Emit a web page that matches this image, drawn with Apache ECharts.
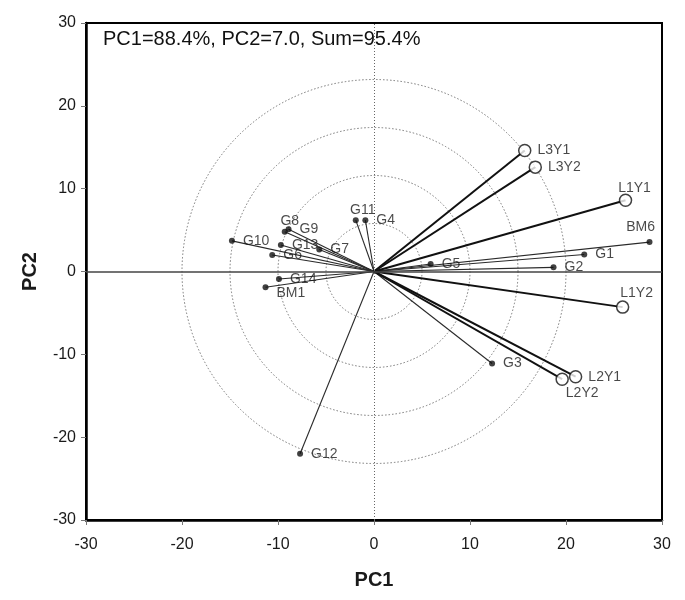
<!DOCTYPE html>
<html>
<head>
<meta charset="utf-8">
<script src="https://cdn.jsdelivr.net/npm/echarts@6/dist/echarts.min.js"></script>
<style>
html,body{margin:0;padding:0;background:#fff;}
#chart{width:685px;height:600px;}
</style>
</head>
<body>
<div id="chart"></div>
<script>
// ---- data ----
const gNames = ['G1','G2','G3','G4','G5','G6','G7','G8','G9','G10','G11','G12','G13','G14','BM1','BM6'];
const gPC1   = [21.9, 18.7, 12.3, -0.9, 5.9, -10.6, -5.7, -9.3, -8.9, -14.8, -1.9, -7.7, -9.7, -9.9, -11.3, 28.7];
const gPC2   = [2.05, 0.5, -11.1, 6.2, 0.9, 2.0, 2.65, 4.8, 5.1, 3.7, 6.2, -22.0, 3.2, -0.9, -1.9, 3.55];
const lNames = ['L1Y1','L1Y2','L2Y1','L2Y2','L3Y1','L3Y2'];
const lPC1   = [26.2, 25.9, 21.0, 19.6, 15.7, 16.8];
const lPC2   = [8.6, -4.3, -12.7, -13.0, 14.6, 12.6];
const axisTicks = [-30, -20, -10, 0, 10, 20, 30];
const circleRadii = [5, 10, 15, 20];
const annotation = 'PC1=88.4%, PC2=7.0, Sum=95.4%';

// ---- style ----
const FONT = 'Liberation Sans, Arial, Helvetica, sans-serif';
const labelPlacement = {
  L1Y1: {position: 'top', distance: 0, offset: [9, 2]},
  BM6:  {position: 'top', distance: 5, offset: [-9, 0]},
  L1Y2: {position: 'top', distance: 0, offset: [14, 0]},
  L2Y2: {position: 'bottom', distance: 0, offset: [20, 0]},
  G11:  {position: 'top', distance: 0, offset: [7, 0]},
  G8:   {position: 'top', distance: 1, offset: [5, 0]},
  BM1:  {position: 'right', distance: 8, offset: [0, 6]}
};
function labelFor(name, dist) {
  const p = labelPlacement[name] || {position: 'right', distance: dist, offset: [0, 0]};
  return {show: true, formatter: name, position: p.position, distance: p.distance, offset: p.offset,
          fontFamily: FONT, fontSize: 14, color: '#1a1a1a'};
}

const gPoints = gNames.map((n, i) => ({name: n, value: [gPC1[i], gPC2[i]], label: labelFor(n, 8)}));
const lPoints = lNames.map((n, i) => ({name: n, value: [lPC1[i], lPC2[i]], label: labelFor(n, 6)}));
const gVectors = gNames.map((n, i) => ({coords: [[0, 0], [gPC1[i], gPC2[i]]]}));
const lVectors = lNames.map((n, i) => ({coords: [[0, 0], [lPC1[i], lPC2[i]]]}));

const chart = echarts.init(document.getElementById('chart'), null, {renderer: 'canvas'});
const axisCommon = {
  type: 'value',
  min: axisTicks[0], max: axisTicks[axisTicks.length - 1], interval: 10,
  splitLine: {show: false},
  axisLine: {show: true, onZero: false, lineStyle: {color: '#000', width: 2.5}},
  axisTick: {show: true, inside: false, length: 5, lineStyle: {color: '#777', width: 1}},
  axisLabel: {fontFamily: FONT, fontSize: 16, color: '#1a1a1a'},
  nameTextStyle: {fontFamily: FONT, fontSize: 20, fontWeight: 'bold', color: '#1a1a1a'},
  nameLocation: 'middle'
};
chart.setOption({
  animation: false,
  backgroundColor: '#fff',
  grid: {left: 86, right: 23, top: 23, bottom: 80, show: true, borderColor: '#000', borderWidth: 2, backgroundColor: 'transparent'},
  xAxis: Object.assign({}, axisCommon, {name: 'PC1', nameGap: 50, axisLabel: Object.assign({}, axisCommon.axisLabel, {margin: 17})}),
  yAxis: Object.assign({}, axisCommon, {name: 'PC2', nameGap: 46, axisLabel: Object.assign({}, axisCommon.axisLabel, {margin: 10})}),
  series: [
    {
      type: 'scatter', symbolSize: 0, data: [], silent: true, z: 1,
      markLine: {
        silent: true, symbol: 'none', label: {show: false},
        data: [
          {yAxis: 0, lineStyle: {type: 'solid', color: '#444', width: 1.5}},
          {xAxis: 0, lineStyle: {type: [1, 2], color: '#666', width: 1}}
        ]
      }
    },
    {type: 'lines', coordinateSystem: 'cartesian2d', data: gVectors, z: 3,
     lineStyle: {color: '#2a2a2a', width: 1.1, opacity: 1}},
    {type: 'lines', coordinateSystem: 'cartesian2d', data: lVectors, z: 3,
     lineStyle: {color: '#111', width: 2, opacity: 1}},
    {type: 'scatter', data: gPoints, symbol: 'circle', symbolSize: 6, z: 5,
     itemStyle: {color: '#111'}},
    {type: 'scatter', data: lPoints, symbol: 'circle', symbolSize: 12, z: 5,
     itemStyle: {color: '#fff', borderColor: '#111', borderWidth: 1.5}}
  ]
});

// concentric reference circles, sized via the x-axis scale
const c0 = chart.convertToPixel({gridIndex: 0}, [0, 0]);
const circles = circleRadii.map(r => {
  const px = chart.convertToPixel({gridIndex: 0}, [r, 0])[0] - c0[0];
  return {type: 'circle', z: 0, silent: true,
          shape: {cx: c0[0], cy: c0[1], r: px},
          style: {fill: null, stroke: '#777', lineWidth: 1, lineDash: [1.5, 2]}};
});
circles.push({type: 'text', left: 103, top: 29, z: 10,
  style: {text: annotation, font: '20px ' + FONT, fill: '#111'}});
chart.setOption({graphic: circles});
</script>
</body>
</html>
